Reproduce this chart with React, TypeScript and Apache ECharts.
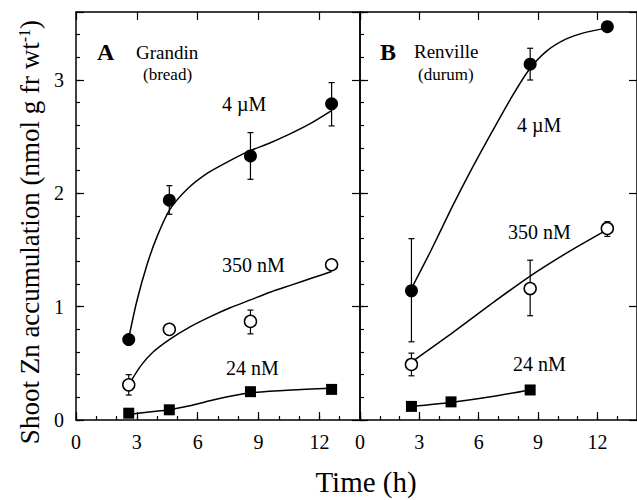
import React, { useEffect, useRef } from "react";
import * as echarts from "echarts";

const FONT = "Liberation Serif";

// Tick labels
const xTickValues = [0, 3, 6, 9, 12];
const yTickValues = [0, 1, 2, 3];

// Panel A: Grandin (bread)
const grandinTimes = [2.6, 4.6, 8.6, 12.6];
const grandin4uM = [0.71, 1.94, 2.33, 2.79];
const grandin4uMLow = [null, 1.815, 2.124, 2.595];
const grandin4uMHigh = [null, 2.068, 2.536, 2.977];
const grandin350nM = [0.31, 0.8, 0.87, 1.37];
const grandin350nMLow = [0.22, null, 0.76, null];
const grandin350nMHigh = [0.4, null, 0.97, null];
const grandin24nM = [0.06, 0.09, 0.25, 0.27];
const grandin4uMCurve = [[2.62, 0.74], [3.0, 1.05], [3.5, 1.37], [4.0, 1.62], [4.6, 1.85], [5.5, 2.04], [6.5, 2.18], [7.5, 2.28], [8.5, 2.37], [9.5, 2.44], [10.5, 2.52], [11.5, 2.61], [12.6, 2.73]];
const grandin350nMCurve = [[2.7, 0.34], [3.2, 0.48], [3.8, 0.6], [4.6, 0.71], [5.6, 0.82], [6.6, 0.91], [7.6, 0.99], [8.6, 1.06], [9.6, 1.13], [10.6, 1.19], [11.6, 1.25], [12.6, 1.31]];
const grandin24nMCurve = [[2.7, 0.05], [3.6, 0.07], [4.6, 0.09], [5.6, 0.125], [6.6, 0.17], [7.6, 0.21], [8.6, 0.24], [10.6, 0.265], [12.6, 0.28]];

// Panel B: Renville (durum)
const renvilleTimes = [2.6, 8.6, 12.5];
const renville4uM = [1.14, 3.14, 3.47];
const renville4uMLow = [0.69, 3.0, null];
const renville4uMHigh = [1.6, 3.28, null];
const renville350nM = [0.49, 1.16, 1.69];
const renville350nMLow = [0.39, 0.92, 1.62];
const renville350nMHigh = [0.59, 1.41, 1.75];
const renville24nMTimes = [2.6, 4.6, 8.6];
const renville24nM = [0.12, 0.16, 0.265];
const renville4uMCurve = [[2.6, 1.16], [3.6, 1.5], [4.6, 1.86], [5.6, 2.2], [6.6, 2.52], [7.6, 2.83], [8.5, 3.08], [9.4, 3.25], [10.4, 3.36], [11.4, 3.42], [12.5, 3.46]];
const renville350nMCurve = [[2.6, 0.51], [4.6, 0.76], [6.6, 1.02], [8.6, 1.27], [10.6, 1.49], [12.5, 1.68]];
const renville24nMCurve = [[2.6, 0.12], [4.6, 0.155], [6.6, 0.205], [8.6, 0.265]];

const black = "#000";

function xAxesFor(gridIndex: number) {
  return [
    {
      gridIndex, type: "value", min: 0, max: 14, interval: 1, position: "bottom",
      axisLine: { show: true, onZero: false, lineStyle: { color: black, width: 1.5 } },
      axisTick: { show: true, inside: true, length: 4, lineStyle: { color: black, width: 1.2 } },
      axisLabel: {
        show: true, color: black, fontFamily: FONT, fontSize: 20, margin: 12,
        showMaxLabel: false,
        formatter: (v: number) => (xTickValues.indexOf(v) >= 0 ? String(v) : ""),
      },
      splitLine: { show: false },
    },
    {
      gridIndex, type: "value", min: 0, max: 14, interval: 3, position: "bottom",
      axisLine: { show: false, onZero: false },
      axisTick: { show: true, inside: true, length: 8, lineStyle: { color: black, width: 1.2 } },
      axisLabel: { show: false },
      splitLine: { show: false },
    },
    {
      gridIndex, type: "value", min: 0, max: 14, interval: 3, position: "top",
      axisLine: { show: true, onZero: false, lineStyle: { color: black, width: 1.5 } },
      axisTick: { show: true, inside: true, length: 8, lineStyle: { color: black, width: 1.2 } },
      axisLabel: { show: false },
      splitLine: { show: false },
    },
  ];
}

function yAxesFor(gridIndex: number, labels: boolean) {
  return [
    {
      gridIndex, type: "value", min: 0, max: 3.6, interval: 0.2, position: "left",
      axisLine: { show: true, onZero: false, lineStyle: { color: black, width: 1.5 } },
      axisTick: { show: true, inside: true, length: 4, lineStyle: { color: black, width: 1.2 } },
      axisLabel: {
        show: labels, color: black, fontFamily: FONT, fontSize: 20, margin: 12,
        showMaxLabel: false,
        formatter: (v: number) => {
          const r = Math.round(v);
          return Math.abs(v - r) < 1e-6 && yTickValues.indexOf(r) >= 0 ? String(r) : "";
        },
      },
      splitLine: { show: false },
    },
    {
      gridIndex, type: "value", min: 0, max: 3.6, interval: 1, position: "left",
      axisLine: { show: false, onZero: false },
      axisTick: { show: true, inside: true, length: 8, lineStyle: { color: black, width: 1.2 } },
      axisLabel: { show: false },
      splitLine: { show: false },
    },
    {
      gridIndex, type: "value", min: 0, max: 3.6, interval: 1, position: "right",
      axisLine: { show: true, onZero: false, lineStyle: { color: black, width: 1.5 } },
      axisTick: { show: true, inside: true, length: 8, lineStyle: { color: black, width: 1.2 } },
      axisLabel: { show: false },
      splitLine: { show: false },
    },
  ];
}

function curve(points: number[][], axis: number) {
  return {
    type: "line", xAxisIndex: axis, yAxisIndex: axis, data: points, smooth: 0.25,
    showSymbol: false, symbol: "none", z: 2, silent: true,
    lineStyle: { color: black, width: 1.5 },
  };
}

function markers(times: number[], values: number[], kind: string, axis: number) {
  const filled = kind !== "open";
  return {
    type: "scatter", xAxisIndex: axis, yAxisIndex: axis, z: 5, silent: true,
    data: times.map((t, i) => [t, values[i]]),
    symbol: kind === "square" ? "rect" : "circle",
    symbolSize: kind === "square" ? 11 : kind === "open" ? 12 : 13,
    itemStyle: filled
      ? { color: black, borderWidth: 0, opacity: 1 }
      : { color: "#fff", borderColor: black, borderWidth: 1.5, opacity: 1 },
  };
}

function errorBars(times: number[], low: (number | null)[], high: (number | null)[], axis: number) {
  const data: number[][] = [];
  times.forEach((t, i) => {
    if (low[i] != null && high[i] != null) data.push([t, low[i] as number, high[i] as number]);
  });
  return {
    type: "custom", xAxisIndex: axis, yAxisIndex: axis, z: 3, silent: true,
    data,
    encode: { x: 0, y: [1, 2] },
    renderItem: (_params: any, api: any) => {
      const x = api.value(0);
      const p1 = api.coord([x, api.value(1)]);
      const p2 = api.coord([x, api.value(2)]);
      const w = 3;
      const st = { stroke: black, lineWidth: 1.2 };
      return {
        type: "group",
        children: [
          { type: "line", shape: { x1: p1[0], y1: p1[1], x2: p2[0], y2: p2[1] }, style: st },
          { type: "line", shape: { x1: p1[0] - w, y1: p1[1], x2: p1[0] + w, y2: p1[1] }, style: st },
          { type: "line", shape: { x1: p2[0] - w, y1: p2[1], x2: p2[0] + w, y2: p2[1] }, style: st },
        ],
      };
    },
  };
}

function label(text: string, x: number, y: number, size: number, bold = false, align = "left") {
  return {
    type: "text", x, y, silent: true,
    style: {
      text, fill: black, fontFamily: FONT, fontSize: size, fontWeight: bold ? "bold" : "normal",
      textAlign: align, textVerticalAlign: "middle",
    },
  };
}

export default function App() {
  const ref = useRef<HTMLDivElement>(null);
  useEffect(() => {
    if (!ref.current) return;
    const chart = echarts.init(ref.current, null, { renderer: "svg" });
    const option: any = {
      animation: false,
      backgroundColor: "#fff",
      textStyle: { fontFamily: FONT },
      grid: [
        { left: 76, top: 12, width: 284, height: 408 },
        { left: 360, top: 12, width: 284, height: 408 },
      ],
      xAxis: [...xAxesFor(0), ...xAxesFor(1)],
      yAxis: [...yAxesFor(0, true), ...yAxesFor(1, false)],
      series: [
        curve(grandin4uMCurve, 0),
        curve(grandin350nMCurve, 0),
        curve(grandin24nMCurve, 0),
        errorBars(grandinTimes, grandin4uMLow, grandin4uMHigh, 0),
        errorBars(grandinTimes, grandin350nMLow, grandin350nMHigh, 0),
        markers(grandinTimes, grandin4uM, "filled", 0),
        markers(grandinTimes, grandin350nM, "open", 0),
        markers(grandinTimes, grandin24nM, "square", 0),
        curve(renville4uMCurve, 3),
        curve(renville350nMCurve, 3),
        curve(renville24nMCurve, 3),
        errorBars(renvilleTimes, renville4uMLow, renville4uMHigh, 3),
        errorBars(renvilleTimes, renville350nMLow, renville350nMHigh, 3),
        markers(renvilleTimes, renville4uM, "filled", 3),
        markers(renvilleTimes, renville350nM, "open", 3),
        markers(renville24nMTimes, renville24nM, "square", 3),
      ],
      graphic: [
        label("A", 97, 52, 24, true),
        label("Grandin", 136, 52, 19),
        label("(bread)", 143, 74, 17),
        label("4 µM", 222, 104, 20),
        label("350 nM", 222, 265, 20),
        label("24 nM", 226, 368, 20),
        label("B", 380, 52, 24, true),
        label("Renville", 414, 51, 19),
        label("(durum)", 418, 74, 17),
        label("4 µM", 517, 125, 20),
        label("350 nM", 508, 232, 20),
        label("24 nM", 513, 364, 20),
        label("Time (h)", 366, 482, 29, false, "center"),
        {
          type: "text", x: 30, y: 232, rotation: Math.PI / 2, silent: true,
          style: {
            text: "Shoot Zn accumulation (nmol g fr wt{sup|-1})",
            fill: black, fontFamily: FONT, fontSize: 27,
            textAlign: "center", textVerticalAlign: "middle",
            rich: { sup: { fontSize: 16, fontFamily: FONT, fill: black, verticalAlign: "top", padding: [0, 0, 12, 0] } },
          },
        },
      ],
    };
    chart.setOption(option);
    return () => chart.dispose();
  }, []);
  return (
    <div
      ref={ref}
      style={{ position: "absolute", left: 0, top: 0, width: 637, height: 500, background: "#fff" }}
    />
  );
}
